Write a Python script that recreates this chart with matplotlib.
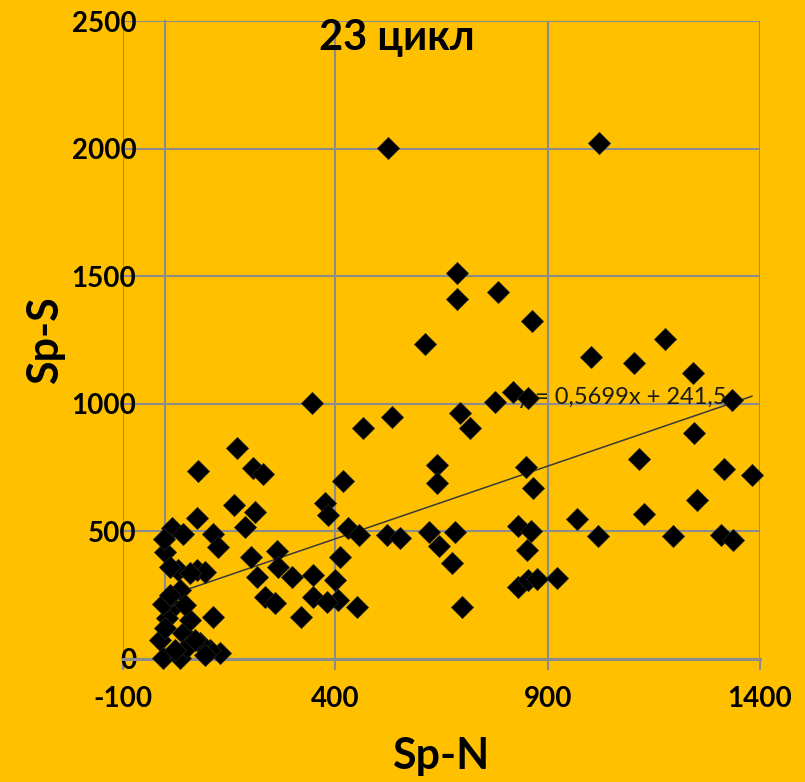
import numpy as np
import matplotlib.pyplot as plt

# data
sp_n = [524, 1021, 686, 686, 783, 611, 863, 1002, 1103, 1176, 1242, 776, 818, 854, 1334,
        533, 693, 717, 345, 465, 1244, 1115, 1315, 1381, 1252, 1127, 969, 1018, 1195, 1308,
        1336, 922, 639, 639, 849, 865, 418, 430, 456, 522, 552, 620, 682, 644, 675,
        830, 861, 851, 830, 854, 875, 411, 399, 406, 451, 698, 168, 77, 206, 230,
        161, 211, 187, 74, 15, 41, 112, 124, -1, -3, 376, 383, 29, 74, 93,
        34, 201, 263, 215, 265, 298, 347, 234, 258, 347, 380, 319, 112, 128, 105,
        11, 58, 18, 4, -13, -6, 34, 41, 58, 81, 51, -6, -1, 22, 46, 70, 93, 11]
sp_s = [2002, 2021, 1512, 1410, 1437, 1233, 1324, 1182, 1159, 1253, 1120, 1006, 1045, 1022, 1014,
        947, 963, 904, 1002, 904, 884, 782, 743, 720, 622, 567, 547, 480, 480, 484,
        465, 316, 759, 688, 751, 669, 696, 512, 484, 484, 473, 496, 496, 441, 375,
        520, 500, 426, 280, 308, 312, 398, 308, 229, 202, 202, 826, 735, 747, 724,
        602, 575, 516, 551, 512, 488, 488, 437, 418, 470, 610, 563, 347, 347, 339,
        269, 398, 422, 320, 359, 320, 328, 241, 218, 241, 222, 163, 163, 22, 33,
        359, 335, 202, 159, 73, 2, 2, 100, 151, 61, 45, 214, 120, 33, 210, 73, 14, 249]

slope = 0.5699
intercept = 241.5
title = "23 цикл"
x_ticks = [-100, 400, 900, 1400]
y_ticks = [0, 500, 1000, 1500, 2000, 2500]

bg = "#FFC000"
grid_c = "#8C8C8C"
fam = ["Lato", "Open Sans", "DejaVu Sans"]

plt.rcParams["font.family"] = fam
plt.rcParams["axes.unicode_minus"] = False

fig = plt.figure(figsize=(8.05, 7.82), dpi=100)
fig.patch.set_facecolor(bg)
ax = fig.add_axes([123/805, 1 - 658.5/782, 637/805, 637.5/782])
ax.set_facecolor(bg)

ax.set_xlim(-100, 1400)
ax.set_ylim(0, 2500)
ax.set_xticks(x_ticks)
ax.set_yticks(y_ticks)
ax.grid(True, color=grid_c, lw=1.5, zorder=0)
ax.set_axisbelow(True)

for s in ["top", "right"]:
    ax.spines[s].set_visible(False)
ax.spines["left"].set_position(("data", 0))
ax.spines["left"].set_color(grid_c)
ax.spines["left"].set_linewidth(1.5)
ax.spines["bottom"].set_color(grid_c)
ax.spines["bottom"].set_linewidth(2.2)

ax.tick_params(axis="x", length=8, width=1.5, color=grid_c, pad=12,
               labelsize=20)
ax.tick_params(axis="y", length=0, pad=21, labelsize=20)
for lab in ax.get_xticklabels() + ax.get_yticklabels():
    lab.set_fontweight("bold")

# trendline
xs = np.array([min(sp_n), max(sp_n)])
ax.plot(xs, slope * xs + intercept, color="#3A3A3A", lw=1.1, zorder=2)
ax.text(828, 1025, "y = 0,5699x + 241,5", fontsize=17, va="center", ha="left",
        color="#1A1A1A", zorder=2)

ax.plot(sp_n, sp_s, linestyle="none", marker="D", ms=11.5, color="black",
        mec="#222222", mew=0.6, zorder=3, clip_on=False)

ax.text(0.43, 0.973, title, transform=ax.transAxes, ha="center", va="center",
        fontsize=30, fontweight="bold")
fig.text(441/805, 1 - 756/782, "Sp-N", ha="center", va="center",
         fontsize=31, fontweight="bold")
fig.text(45/805, 1 - 340/782, "Sp-S", ha="center", va="center", rotation=90,
         fontsize=31, fontweight="bold")

fig.savefig("out.png", dpi=100, facecolor=bg)
